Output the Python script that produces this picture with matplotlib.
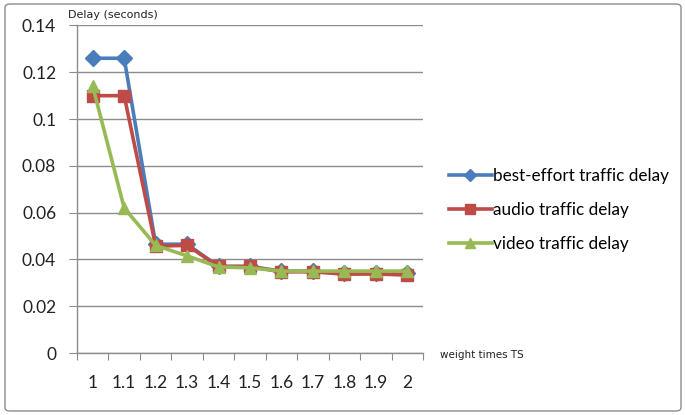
import matplotlib
matplotlib.use("Agg")
import matplotlib.pyplot as plt
from matplotlib.patches import FancyBboxPatch
from matplotlib.ticker import MultipleLocator, FixedLocator, NullFormatter, FuncFormatter

plt.rcParams['font.family'] = ['Lato', 'DejaVu Sans']

weights = ["1", "1.1", "1.2", "1.3", "1.4", "1.5", "1.6", "1.7", "1.8", "1.9", "2"]
best_effort = [0.126, 0.126, 0.0465, 0.0465, 0.037, 0.037, 0.035, 0.035, 0.034, 0.034, 0.034]
audio = [0.110, 0.110, 0.0457, 0.046, 0.037, 0.037, 0.0347, 0.0347, 0.0337, 0.0338, 0.0333]
video = [0.114, 0.062, 0.046, 0.0415, 0.0368, 0.0364, 0.035, 0.035, 0.035, 0.035, 0.035]

fig = plt.figure(figsize=(6.85, 4.15), dpi=100)

# outer chart frame
frame = FancyBboxPatch((5 / 685, 4 / 415), 676 / 685, 407 / 415,
                       boxstyle="round,pad=0,rounding_size=0.008",
                       transform=fig.transFigure, fill=False,
                       edgecolor="#8c8c8c", linewidth=1.0)
fig.patches.append(frame)

ax = fig.add_axes([77 / 685, 62 / 415, 346 / 685, 327.5 / 415])
x = list(range(len(weights)))

ax.plot(x, best_effort, color="#4A7EBB", lw=2.6, marker="D", ms=8,
        label="best-effort traffic delay", zorder=3)
ax.plot(x, audio, color="#BE4B48", lw=2.6, marker="s", ms=9,
        label="audio traffic delay", zorder=4)
ax.plot(x, video, color="#98B954", lw=2.6, marker="^", ms=9,
        label="video traffic delay", zorder=5)

ax.set_xlim(-0.5, len(weights) - 0.5)
ax.set_ylim(0, 0.14)
ax.yaxis.set_major_locator(MultipleLocator(0.02))
ax.yaxis.set_major_formatter(FuncFormatter(lambda v, pos: f"{round(v, 2):g}"))
ax.grid(axis="y", color="#8c8c8c", lw=1.0)
ax.set_axisbelow(True)

# category boundaries carry the tick marks, centers carry the labels
ax.xaxis.set_major_locator(FixedLocator([i - 0.5 for i in range(len(weights) + 1)]))
ax.xaxis.set_major_formatter(NullFormatter())
ax.xaxis.set_minor_locator(FixedLocator(x))
ax.set_xticklabels(weights, minor=True)
ax.tick_params(axis="x", which="major", length=5, color="#8c8c8c", direction="out")
ax.tick_params(axis="x", which="minor", length=0, pad=16, labelsize=12.5, labelcolor="#222222")
ax.tick_params(axis="y", length=6, color="#8c8c8c", pad=9, labelsize=12.5, labelcolor="#222222")

for side in ["top", "right"]:
    ax.spines[side].set_visible(False)
for side in ["left", "bottom"]:
    ax.spines[side].set_color("#8c8c8c")
    ax.spines[side].set_linewidth(1.0)

fig.text(68 / 685, 1 - 15 / 415, "Delay (seconds)", fontsize=8, family="DejaVu Sans",
         color="#222222", va="center", ha="left")
fig.text(440 / 685, 1 - 355 / 415, "weight times TS", fontsize=7.5, family="DejaVu Sans",
         color="#222222", va="center", ha="left")

fig.legend(loc="center left", bbox_to_anchor=(449 / 685, 1 - 210 / 415),
           frameon=False, fontsize=12.3, handlelength=2.5, handletextpad=0.1,
           labelspacing=1.05, borderaxespad=0, borderpad=0, markerscale=0.75)

fig.savefig("out.png", dpi=100)
